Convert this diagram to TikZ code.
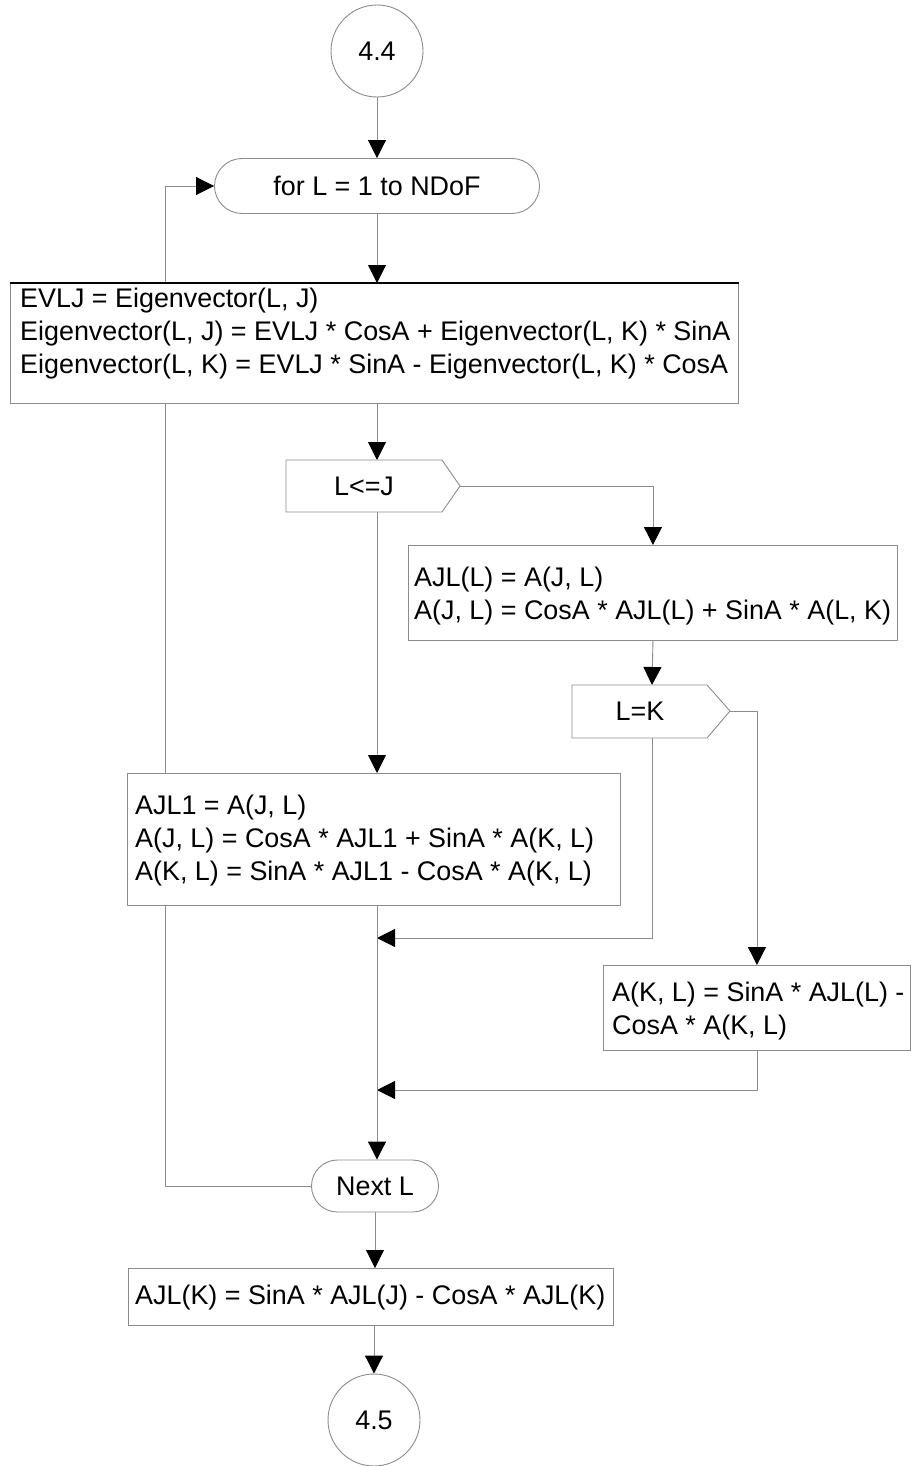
\documentclass[tikz,border=0pt]{standalone}
\usepackage{fontspec}
\setmainfont{Liberation Sans}
\usetikzlibrary{arrows.meta,shapes.misc,backgrounds}

\begin{document}
\begin{tikzpicture}[x=1pt,y=-1pt,
  line/.style={draw=black!45, line width=0.9pt},
  flow/.style={line, -{Triangle[width=18pt,length=18pt,color=black]}},
  box/.style={line, fill=white, inner sep=0pt, anchor=north west},
  txt/.style={inner sep=0pt, align=left, anchor=west, font=\fontsize{26.9}{33}\selectfont},
  conn/.style={circle, line, fill=white, minimum size=92pt, inner sep=0pt, font=\fontsize{26.9}{33}\selectfont},
  term/.style={rounded rectangle, line, fill=white, inner sep=0pt, font=\fontsize{26.9}{33}\selectfont},
  dec/.style={line, fill=white},
]
\useasboundingbox (0,0) rectangle (915,1466);

% connectors and terminals
\node[conn] (c44) at (377,51) {4.4};
\node[term, minimum width=325pt, minimum height=55pt] (loop) at (377,186) {for L = 1 to NDoF};

% loop body: eigenvector update
\node[box, minimum width=728pt, minimum height=120pt] (b1) at (10,283) {};
\node[txt] (t1) at (20,334) {EVLJ = Eigenvector(L, J)\\Eigenvector(L, J) = EVLJ * CosA + Eigenvector(L, K) * SinA\\Eigenvector(L, K) = EVLJ * SinA - Eigenvector(L, K) * CosA};
\draw[black, line width=1.6pt] (b1.north west) -- (b1.north east);

% decision L<=J
\draw[dec] (286,460) -- (442,460) -- (460,486) -- (442,512) -- (286,512) -- cycle;
\node[txt, anchor=center] (d1) at (364,486) {L<=J};
\coordinate (d1top) at (377,460);
\coordinate (d1tip) at (460,486);
\coordinate (d1bot) at (377,512);

% branch L > J
\node[box, minimum width=489pt, minimum height=95pt] (b2) at (408,545) {};
\node[txt] (t2) at (414,596) {AJL(L) = A(J, L)\\A(J, L) = CosA * AJL(L) + SinA * A(L, K)};

% decision L=K
\draw[dec] (572,685) -- (707,685) -- (730,711) -- (707,738) -- (572,738) -- cycle;
\node[txt, anchor=center] (d2) at (640,711) {L=K};
\coordinate (d2top) at (652,685);
\coordinate (d2tip) at (730,711);
\coordinate (d2bot) at (652,738);

% branch L <= J
\node[box, minimum width=493pt, minimum height=132pt] (b3) at (127,773) {};
\node[txt] (t3) at (135,841) {AJL1 = A(J, L)\\A(J, L) = CosA * AJL1 + SinA * A(K, L)\\A(K, L) = SinA * AJL1 - CosA * A(K, L)};

% branch L = K
\node[box, minimum width=307pt, minimum height=85pt] (b4) at (603,965) {};
\node[txt] (t4) at (612,1011) {A(K, L) = SinA * AJL(L) -\\CosA * A(K, L)};

\node[term, minimum width=127pt, minimum height=52pt] (nl) at (375,1186) {Next L};

\node[box, minimum width=485pt, minimum height=57pt] (b5) at (128,1268) {};
\node[txt] (t5) at (135,1298) {AJL(K) = SinA * AJL(J) - CosA * AJL(K)};

\node[conn] (c45) at (374,1420) {4.5};

% junction points on the main column
\coordinate (j1) at (377,938);
\coordinate (j2) at (377,1090);
\coordinate (back) at (165,186);

\begin{scope}[on background layer]
  \draw[flow] (c44.south) -- (c44.south |- loop.north);
  \draw[flow] (loop.south) -- (loop.south |- b1.north);
  \draw[flow] (b1.south -| d1top) -- (d1top);
  \draw[flow] (d1tip) -| (b2.north);
  \draw[flow] (b2.south) -- (d2top);
  \draw[flow] (d2tip) -| (b4.north);
  \draw[flow] (d1bot) -- (d1bot |- b3.north);
  \draw[flow] (d2bot) |- (j1);
  \draw[flow] (b4.south) |- (j2);
  \draw[flow] (b3.south -| j1) -- (j1 |- nl.north);
  \draw[flow] (nl.west) -| (back) -- (loop.west);
  \draw[flow] (nl.south) -- (nl.south |- b5.north);
  \draw[flow] (b5.south -| c45.north) -- (c45.north);
\end{scope}
\end{tikzpicture}
\end{document}
